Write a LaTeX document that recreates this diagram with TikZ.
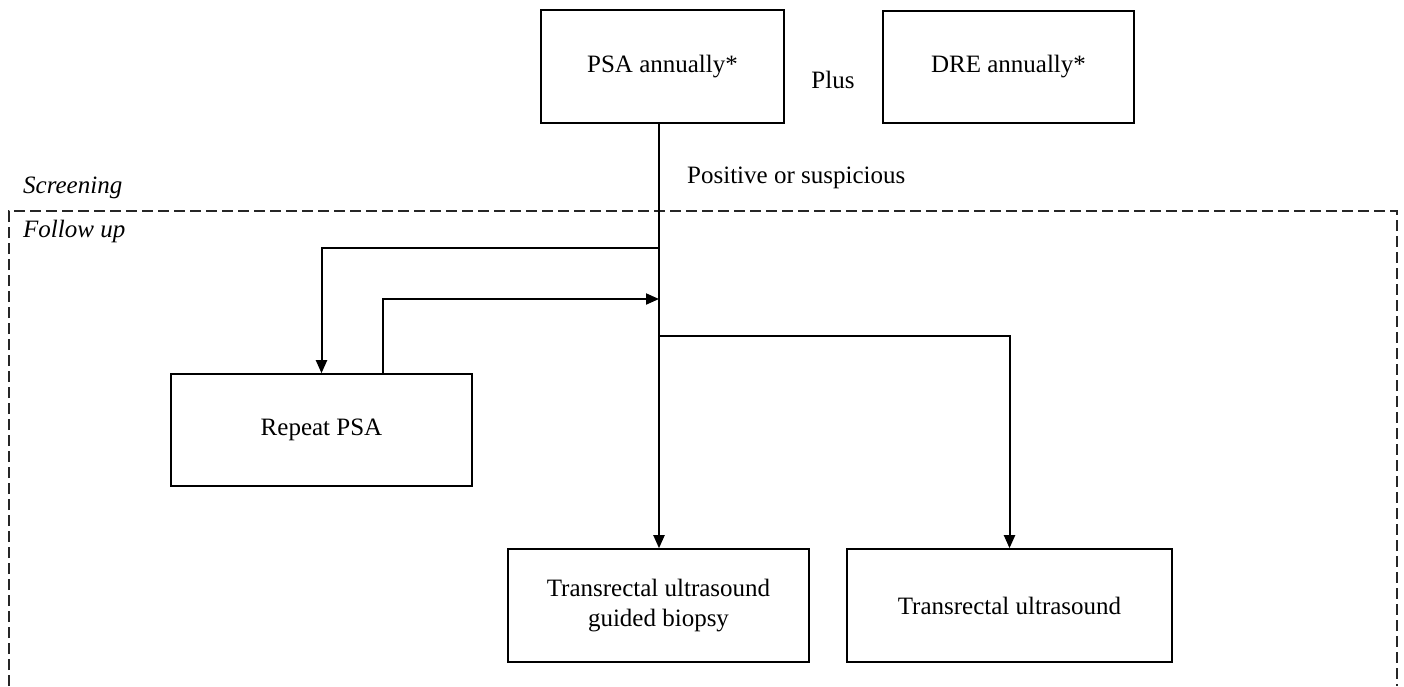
\documentclass[tikz,border=0pt]{standalone}
\usepackage{fontspec}
\setmainfont{Liberation Serif}
\usetikzlibrary{arrows.meta}
\begin{document}
\begin{tikzpicture}[x=1pt,y=-1pt,
  box/.style={draw, line width=1.6pt, inner sep=0pt, align=center, font=\fontsize{25}{30}\selectfont},
  lbl/.style={font=\fontsize{25}{30}\selectfont, inner sep=0pt},
  arr/.style={line width=2pt, -{Triangle[length=13pt,width=11pt]}},
  ln/.style={line width=2pt},
  dashbox/.style={draw=black!85, line width=1.5pt, dash pattern=on 11pt off 5pt}]
\useasboundingbox (0,0) rectangle (1404,686);
% boxes
\node[box, minimum width=243pt, minimum height=113pt] (psa) at (662.5,66.5) {PSA annually*};
\node[box, minimum width=251pt, minimum height=112pt] (dre) at (1008.5,67) {DRE annually*};
\node[box, minimum width=301pt, minimum height=112pt] (rep) at (321.5,430) {Repeat PSA};
\node[box, minimum width=301pt, minimum height=113pt] (bio) at (658.5,605.5) {Transrectal ultrasound\\guided biopsy};
\node[box, minimum width=325pt, minimum height=113pt] (trus) at (1009.5,605.5) {Transrectal ultrasound};
% labels
\node[lbl] (plus) at (833,80) {Plus};
\node[lbl, anchor=west] (pos) at (687,178) {Positive or suspicious};
\node[lbl, anchor=base west] (scr) at (23,193) {\itshape Screening};
\node[lbl, anchor=base west] (fol) at (23,237) {\itshape Follow up};
% dashed follow-up region
\draw[dashbox] (9,686) -- (9,211) -- (1397,211) -- (1397,686);
% junctions
\coordinate (j1) at (659,248);
\coordinate (j2) at (659,299);
\coordinate (j3) at (659,336);
\coordinate (rx) at (383,299);
% connectors
\draw[arr] (psa.south -| j1) -- (bio.north -| j1);
\draw[arr] (j1) -| (rep.north);
\draw[arr] (rep.north -| rx) -- (rx) -- (j2);
\draw[arr] (j3) -| (trus.north);
\end{tikzpicture}
\end{document}
